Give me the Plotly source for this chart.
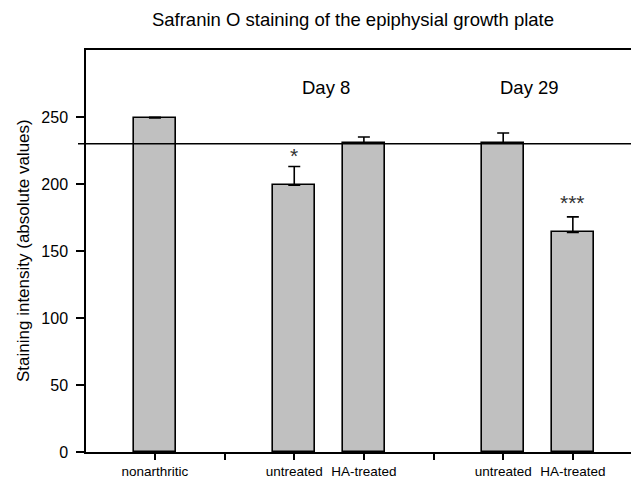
import plotly.graph_objects as go

# ---- data ----
positions = [0, 2, 3, 5, 6]
means = [249.2, 199.1, 230.6, 230.6, 163.9]
errors = [0.6, 14.0, 4.5, 7.5, 11.6]
tick_positions = [0, 1, 2, 3, 4, 5, 6]
tick_labels = ["nonarthritic", "", "untreated", "HA-treated", "", "untreated", "HA-treated"]
sig_labels = ["", "*", "", "", "***"]
sig_y = [None, 221, None, None, 186]
group_labels = ["Day 8", "Day 29"]
group_x = [2.46, 5.38]
group_y = 272
reference_value = 230

# page body has an 8px margin; compensate so the plot lands where the reference has it
OFF = 8
W, H = 639 - OFF, 481 - OFF
L, T, B, R = 86 - OFF, 50 - OFF, 29, 0
plot_w = W - L - R

fig = go.Figure()
fig.add_trace(go.Bar(
    x=positions, y=means, width=0.61,
    marker=dict(color="#c0c0c0", line=dict(color="black", width=1.6)),
    error_y=dict(type="data", array=errors, arrayminus=[0] * len(errors),
                 symmetric=False, color="black", thickness=1.6, width=6),
    showlegend=False,
))

annotations = []
for x, lab, yv in zip(positions, sig_labels, sig_y):
    if lab:
        annotations.append(dict(x=x, y=yv, text=lab, showarrow=False,
                                font=dict(size=21, color="#333333"), yanchor="middle"))
for x, lab in zip(group_x, group_labels):
    annotations.append(dict(x=x, y=group_y, text=lab, showarrow=False,
                            font=dict(size=18.5, color="black")))
annotations.append(dict(xref="paper", yref="paper", x=(23 - 86) / plot_w, y=0.5,
                        text="Staining intensity (absolute values)", textangle=-90,
                        showarrow=False, xanchor="center", yanchor="middle",
                        font=dict(size=17, color="black")))

fig.update_layout(
    width=W, height=H,
    margin=dict(l=L, r=R, t=T, b=B, autoexpand=False),
    paper_bgcolor="white", plot_bgcolor="white",
    font=dict(family="Liberation Sans, Arial, sans-serif", color="black"),
    title=dict(text="Safranin O staining of the epiphysial growth plate",
               x=(353 - OFF) / W, xanchor="center", y=1 - (20 - OFF) / H, yanchor="middle",
               font=dict(size=18.5, color="black")),
    xaxis=dict(range=[-0.99, 6.95], tickmode="array", tickvals=tick_positions,
               ticktext=tick_labels, ticks="outside", ticklen=6, tickwidth=1.5,
               tickcolor="black", showline=True, linecolor="black", linewidth=1.5,
               mirror=True, showgrid=False, zeroline=False,
               tickfont=dict(size=13.5)),
    yaxis=dict(range=[0, 300], tickvals=[0, 50, 100, 150, 200, 250],
               ticks="outside", ticklen=8, tickwidth=1.5, tickcolor="black",
               ticklabelstandoff=5,
               showline=True, linecolor="black", linewidth=1.5,
               showgrid=False, zeroline=False, tickfont=dict(size=16)),
    annotations=annotations,
    shapes=[dict(type="line", xref="paper", yref="y", x0=-8 / plot_w, x1=1,
                 y0=reference_value, y1=reference_value,
                 line=dict(color="black", width=1.6), layer="above")],
    bargap=0,
)

fig.write_html("out.html")
